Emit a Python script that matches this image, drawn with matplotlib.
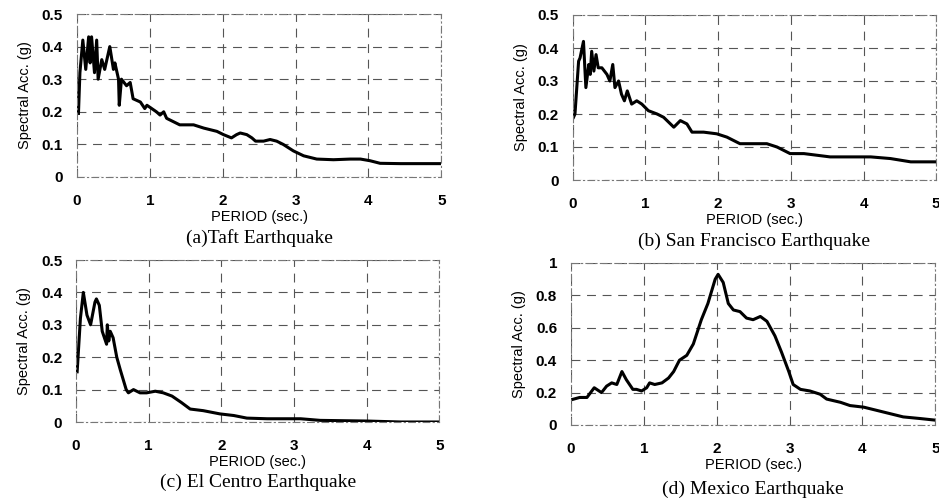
import matplotlib.pyplot as plt
import numpy as np

# Taft
taft_t = [0.02, 0.04, 0.08, 0.12, 0.16, 0.18, 0.20, 0.24, 0.27, 0.29, 0.34, 0.38, 0.45, 0.50,
          0.52, 0.57, 0.58, 0.61, 0.68, 0.73, 0.77, 0.87, 0.93, 0.96, 1.09, 1.14, 1.19, 1.23,
          1.32, 1.41, 1.60, 1.74, 1.92, 2.01, 2.12, 2.19, 2.24, 2.33, 2.40, 2.45, 2.56, 2.65,
          2.74, 2.83, 2.97, 3.11, 3.29, 3.52, 3.75, 3.89, 4.02, 4.16, 4.44, 5.0]
taft_sa = [0.195, 0.32, 0.42, 0.33, 0.43, 0.35, 0.43, 0.32, 0.42, 0.30, 0.36, 0.33, 0.40, 0.33,
           0.35, 0.30, 0.22, 0.30, 0.28, 0.29, 0.24, 0.23, 0.21, 0.22, 0.20, 0.19, 0.20, 0.18,
           0.17, 0.16, 0.16, 0.15, 0.14, 0.13, 0.12, 0.13, 0.135, 0.13, 0.12, 0.11, 0.11, 0.115,
           0.11, 0.10, 0.08, 0.065, 0.055, 0.053, 0.055, 0.055, 0.05, 0.042, 0.041, 0.041]

# San Francisco
sf_t = [0.01, 0.03, 0.08, 0.10, 0.147, 0.18, 0.22, 0.24, 0.26, 0.29, 0.32, 0.35, 0.40, 0.47,
        0.51, 0.55, 0.58, 0.63, 0.67, 0.71, 0.75, 0.81, 0.88, 0.95, 1.04, 1.16, 1.25, 1.39,
        1.48, 1.57, 1.64, 1.80, 1.98, 2.12, 2.30, 2.49, 2.67, 2.81, 2.99, 3.18, 3.54, 4.10,
        4.37, 4.65, 5.0]
sf_sa = [0.19, 0.20, 0.36, 0.37, 0.42, 0.28, 0.35, 0.32, 0.39, 0.33, 0.38, 0.34, 0.34, 0.32,
         0.30, 0.35, 0.28, 0.30, 0.26, 0.24, 0.27, 0.23, 0.24, 0.23, 0.21, 0.20, 0.19, 0.16,
         0.18, 0.17, 0.145, 0.145, 0.14, 0.13, 0.11, 0.11, 0.11, 0.10, 0.08, 0.08, 0.07, 0.07,
         0.065, 0.055, 0.055]

# El Centro
ec_t = [0.015, 0.06, 0.10, 0.15, 0.20, 0.26, 0.28, 0.32, 0.36, 0.42, 0.43, 0.45, 0.47, 0.51,
        0.56, 0.61, 0.69, 0.72, 0.79, 0.88, 0.97, 1.09, 1.20, 1.32, 1.45, 1.57, 1.75, 1.98,
        2.17, 2.35, 2.63, 2.86, 3.09, 3.36, 4.0, 4.47, 5.0]
ec_sa = [0.155, 0.32, 0.40, 0.33, 0.30, 0.37, 0.38, 0.36, 0.28, 0.24, 0.30, 0.25, 0.28, 0.26,
         0.20, 0.16, 0.10, 0.09, 0.10, 0.09, 0.09, 0.095, 0.09, 0.08, 0.06, 0.04, 0.035, 0.025,
         0.02, 0.012, 0.01, 0.01, 0.01, 0.005, 0.003, 0.0, 0.0]

# Mexico
mx_t = [0.0, 0.12, 0.22, 0.32, 0.42, 0.49, 0.56, 0.63, 0.70, 0.76, 0.85, 0.90, 0.97, 1.04,
        1.08, 1.15, 1.25, 1.34, 1.41, 1.49, 1.59, 1.68, 1.79, 1.88, 1.98, 2.02, 2.09, 2.16,
        2.23, 2.32, 2.41, 2.50, 2.60, 2.69, 2.80, 2.89, 2.99, 3.05, 3.15, 3.28, 3.42, 3.51,
        3.70, 3.83, 4.02, 4.20, 4.38, 4.56, 4.79, 5.0]
mx_sa = [0.155, 0.17, 0.17, 0.23, 0.20, 0.24, 0.26, 0.25, 0.33, 0.28, 0.22, 0.22, 0.21, 0.23,
         0.26, 0.25, 0.26, 0.29, 0.33, 0.40, 0.43, 0.50, 0.65, 0.75, 0.90, 0.93, 0.88, 0.75,
         0.71, 0.70, 0.66, 0.65, 0.67, 0.64, 0.55, 0.45, 0.33, 0.25, 0.22, 0.21, 0.19, 0.16,
         0.14, 0.12, 0.11, 0.09, 0.07, 0.05, 0.04, 0.03]

captions = ["(a)Taft Earthquake", "(b) San Francisco Earthquake",
            "(c) El Centro Earthquake", "(d) Mexico Earthquake"]

panels = [
    (taft_t, taft_sa, 0.5, [0, 0.1, 0.2, 0.3, 0.4, 0.5], ["0", "0.1", "0.2", "0.3", "0.4", "0.5"]),
    (sf_t, sf_sa, 0.5, [0, 0.1, 0.2, 0.3, 0.4, 0.5], ["0", "0.1", "0.2", "0.3", "0.4", "0.5"]),
    (ec_t, ec_sa, 0.5, [0, 0.1, 0.2, 0.3, 0.4, 0.5], ["0", "0.1", "0.2", "0.3", "0.4", "0.5"]),
    (mx_t, mx_sa, 1.0, [0, 0.2, 0.4, 0.6, 0.8, 1.0], ["0", "0.2", "0.4", "0.6", "0.8", "1"]),
]

# axes boxes in figure fractions [left, bottom, width, height]
boxes = [
    [0.082, 0.646, 0.388, 0.326],
    [0.610, 0.640, 0.387, 0.330],
    [0.081, 0.156, 0.387, 0.324],
    [0.608, 0.150, 0.388, 0.324],
]
cap_offsets = [0.122, 0.122, 0.12, 0.128]

fig = plt.figure(figsize=(9.39, 5.0), dpi=100)

for (t, sa, ymax, yt, ytl), box, cap, off in zip(panels, boxes, captions, cap_offsets):
    ax = fig.add_axes(box)
    ax.plot(t, sa, color="black", lw=2.2)
    ax.set_xlim(0, 5)
    ax.set_ylim(0, ymax)
    ax.set_xticks(range(6))
    ax.set_xticklabels([str(i) for i in range(6)], fontfamily="Liberation Sans",
                       fontsize=11, fontweight="bold")
    ax.set_yticks(yt)
    ax.set_yticklabels(ytl, fontfamily="Liberation Sans", fontsize=11, fontweight="bold")
    ax.tick_params(length=0)
    ax.tick_params(axis="x", pad=12)
    ax.tick_params(axis="y", pad=10)
    ax.grid(True, color="#555555", linestyle=(0, (8, 6)), lw=0.8)
    for s in ax.spines.values():
        s.set_color("#777777")
        s.set_linestyle((0, (6, 3, 1, 3)))
        s.set_linewidth(0.8)
    ax.set_xlabel("PERIOD (sec.)", fontfamily="Liberation Sans", fontsize=10.5, labelpad=2)
    ax.set_ylabel("Spectral Acc. (g)", fontfamily="Liberation Sans", fontsize=10.5, labelpad=7)
    fig.text(box[0] + box[2] / 2, box[1] - off, cap, ha="center", va="center",
             fontfamily="Liberation Serif", fontsize=14)

fig.savefig("out.png", dpi=100)
